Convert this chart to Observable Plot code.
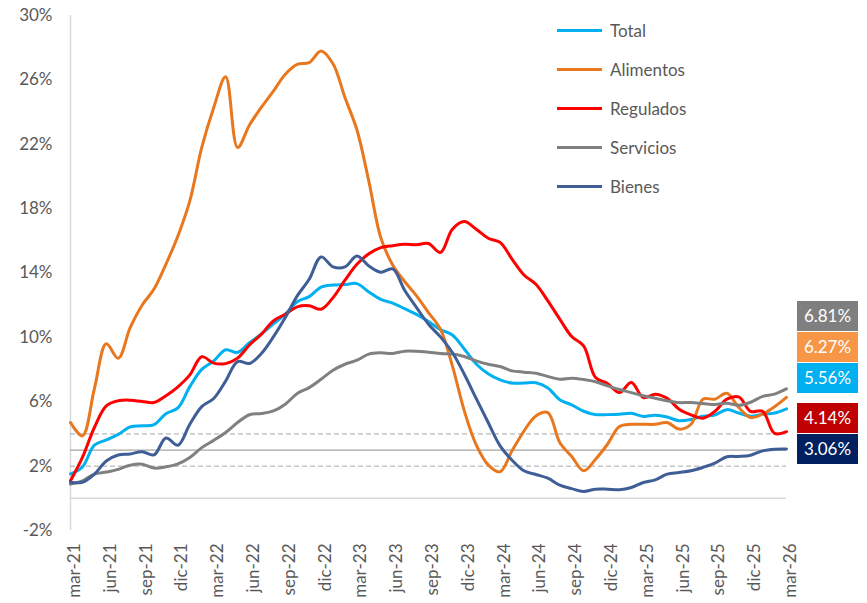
<!DOCTYPE html>
<html>
<head>
<meta charset="utf-8">
<script src="https://cdn.jsdelivr.net/npm/d3@7"></script>
<script src="https://cdn.jsdelivr.net/npm/@observablehq/plot@0.6"></script>
<style>
  body { margin: 0; background: #fff; font-family: Lato, "Open Sans", sans-serif; }
  #wrap { position: relative; width: 867px; height: 603px; }
  #legend { position: absolute; left: 557px; top: 11px; }
  .lg { display: flex; align-items: center; height: 39px; margin-top: 0; }
  .lg .sw { width: 45px; height: 3px; }
  .lg span { margin-left: 8px; font-size: 17px; color: #595959; line-height: 24px; }
  #boxes { position: absolute; left: 797px; top: 301px; width: 61px; }
  .bx { width: 61px; height: 30px; color: #fff; font-size: 17px; text-align: center; line-height: 30px; margin-bottom: 1px; }
</style>
</head>
<body>
<div id="wrap"></div>
<script>
const months = ["mar-21","abr-21","may-21","jun-21","jul-21","ago-21","sep-21","oct-21","nov-21","dic-21",
"ene-22","feb-22","mar-22","abr-22","may-22","jun-22","jul-22","ago-22","sep-22","oct-22","nov-22","dic-22",
"ene-23","feb-23","mar-23","abr-23","may-23","jun-23","jul-23","ago-23","sep-23","oct-23","nov-23","dic-23",
"ene-24","feb-24","mar-24","abr-24","may-24","jun-24","jul-24","ago-24","sep-24","oct-24","nov-24","dic-24",
"ene-25","feb-25","mar-25","abr-25","may-25","jun-25","jul-25","ago-25","sep-25","oct-25","nov-25","dic-25",
"ene-26","feb-26","mar-26"];

const seriesNames = ["Total", "Alimentos", "Regulados", "Servicios", "Bienes"];
const seriesColors = ["#00B0F0", "#E8771E", "#FF0000", "#808080", "#3F5E95"];

const total = [1.51,1.95,3.30,3.63,3.97,4.44,4.51,4.58,5.26,5.62,6.94,8.01,8.53,9.23,9.07,9.67,10.21,10.84,11.44,12.22,
12.53,13.12,13.25,13.28,13.34,12.82,12.36,12.13,11.78,11.43,10.99,10.48,10.15,9.28,8.35,7.74,7.36,7.16,7.16,7.18,
6.86,6.12,5.81,5.41,5.20,5.20,5.22,5.28,5.09,5.16,5.05,4.82,4.90,5.10,5.18,5.51,5.30,5.10,5.22,5.30,5.56];

const alimentos = [4.71,3.88,6.8,9.6,8.7,10.6,12.0,13.0,14.55,16.3,18.48,21.8,24.27,26.2,21.8,23.2,24.3,25.3,26.35,26.97,
27.07,27.8,27.0,24.9,22.9,19.7,16.2,14.5,13.47,12.58,11.54,10.51,8.23,5.43,3.32,2.08,1.65,2.95,4.18,5.12,
5.33,3.47,2.6,1.71,2.43,3.36,4.46,4.6,4.6,4.6,4.71,4.3,4.6,6.16,6.16,6.53,5.64,5.02,5.23,5.69,6.27];

const regulados = [1.09,2.54,4.4,5.75,6.06,6.1,6.02,5.95,6.37,6.93,7.67,8.8,8.4,8.37,8.71,9.53,10.2,11.03,11.44,11.9,
11.97,11.75,12.47,13.55,14.54,15.2,15.58,15.7,15.78,15.76,15.83,15.27,16.72,17.2,16.72,16.16,15.9,14.86,13.88,13.3,
12.27,11.13,10.05,9.47,7.5,7.13,6.57,7.19,6.26,6.47,6.22,5.54,5.19,4.98,5.4,6.16,6.3,5.4,5.4,4.03,4.14];

const servicios = [0.88,1.09,1.5,1.63,1.8,2.06,2.12,1.88,1.96,2.14,2.54,3.15,3.6,4.09,4.71,5.19,5.27,5.43,5.85,6.51,
6.88,7.4,7.96,8.33,8.58,8.96,9.04,9.0,9.14,9.14,9.08,9.0,8.96,8.81,8.54,8.33,8.19,7.92,7.84,7.77,
7.57,7.4,7.46,7.38,7.24,6.99,6.76,6.57,6.37,6.22,6.06,5.95,5.95,5.89,5.83,5.91,5.78,5.97,6.33,6.47,6.81];

const bienes = [1.0,1.0,1.5,2.32,2.69,2.76,2.9,2.7,3.75,3.3,4.6,5.7,6.2,7.28,8.5,8.38,9.0,10.03,11.23,12.58,
13.61,15.0,14.38,14.38,15.06,14.44,14.05,14.25,12.93,11.85,10.82,10.03,9.06,7.71,6.2,4.71,3.26,2.37,1.71,1.48,
1.25,0.82,0.6,0.43,0.57,0.57,0.53,0.67,0.98,1.15,1.5,1.6,1.71,1.92,2.18,2.58,2.6,2.68,2.95,3.05,3.06];

const yTicks = [-2, 2, 6, 10, 14, 18, 22, 26, 30];
const xTickEvery = 3;
const dashedRefs = [2, 4];
const solidRefs = [3];

// end-value boxes (order as in the reference)
const boxOrder = ["Servicios", "Alimentos", "Total", "Regulados", "Bienes"];
const boxColors = ["#7F7F7F", "#F79646", "#00B0F0", "#C00000", "#002060"];

const seriesValues = [total, alimentos, regulados, servicios, bienes];
const rows = [];
seriesNames.forEach((name, k) => {
  seriesValues[k].forEach((v, i) => rows.push({serie: name, i, v}));
});
const xTicks = months.map((_, i) => i).filter(i => i % xTickEvery === 0);

const chart = Plot.plot({
  width: 867,
  height: 603,
  marginLeft: 70,
  marginRight: 81,
  marginTop: 15,
  marginBottom: 73,
  style: {fontFamily: "Lato, 'Open Sans', sans-serif", fontSize: "17px", color: "#595959", background: "white"},
  x: {domain: [0, months.length - 1]},
  y: {domain: [-2, 30]},
  color: {domain: seriesNames, range: seriesColors},
  marks: [
    Plot.ruleY([0], {stroke: "#d9d9d9", strokeWidth: 1.5}),
    Plot.ruleX([0], {stroke: "#d9d9d9", strokeWidth: 1.5}),
    Plot.ruleY(dashedRefs, {x1: 0, x2: months.length - 1, stroke: "#a6a6a6", strokeWidth: 1, strokeDasharray: "5,3"}),
    Plot.ruleY(solidRefs, {x1: 0, x2: months.length - 1, stroke: "#a6a6a6", strokeWidth: 1.2}),
    Plot.line(rows, {x: "i", y: "v", z: "serie", stroke: "serie", curve: "catmull-rom", strokeWidth: 3}),
    Plot.axisY({ticks: yTicks, tickFormat: d => d + "%", tickSize: 0, tickPadding: 18, fontSize: 17, fill: "#595959", label: null}),
    Plot.axisX({ticks: xTicks, tickFormat: i => months[i], tickRotate: -90, tickSize: 0, tickPadding: 13, dx: 4, fontSize: 17, fill: "#595959", label: null})
  ]
});

const wrap = document.getElementById("wrap");
wrap.appendChild(chart);

// legend
const legend = document.createElement("div");
legend.id = "legend";
seriesNames.forEach((name, k) => {
  const e = document.createElement("div");
  e.className = "lg";
  e.innerHTML = `<div class="sw" style="background:${seriesColors[k]}"></div><span>${name}</span>`;
  legend.appendChild(e);
});
wrap.appendChild(legend);

// end-value boxes
const boxes = document.createElement("div");
boxes.id = "boxes";
boxOrder.forEach((name, k) => {
  const vals = seriesValues[seriesNames.indexOf(name)];
  const last = vals[vals.length - 1];
  const b = document.createElement("div");
  b.className = "bx";
  b.style.background = boxColors[k];
  if (name === "Regulados") b.style.marginTop = "10px";
  b.textContent = last.toFixed(2) + "%";
  boxes.appendChild(b);
});
wrap.appendChild(boxes);
</script>
</body>
</html>
